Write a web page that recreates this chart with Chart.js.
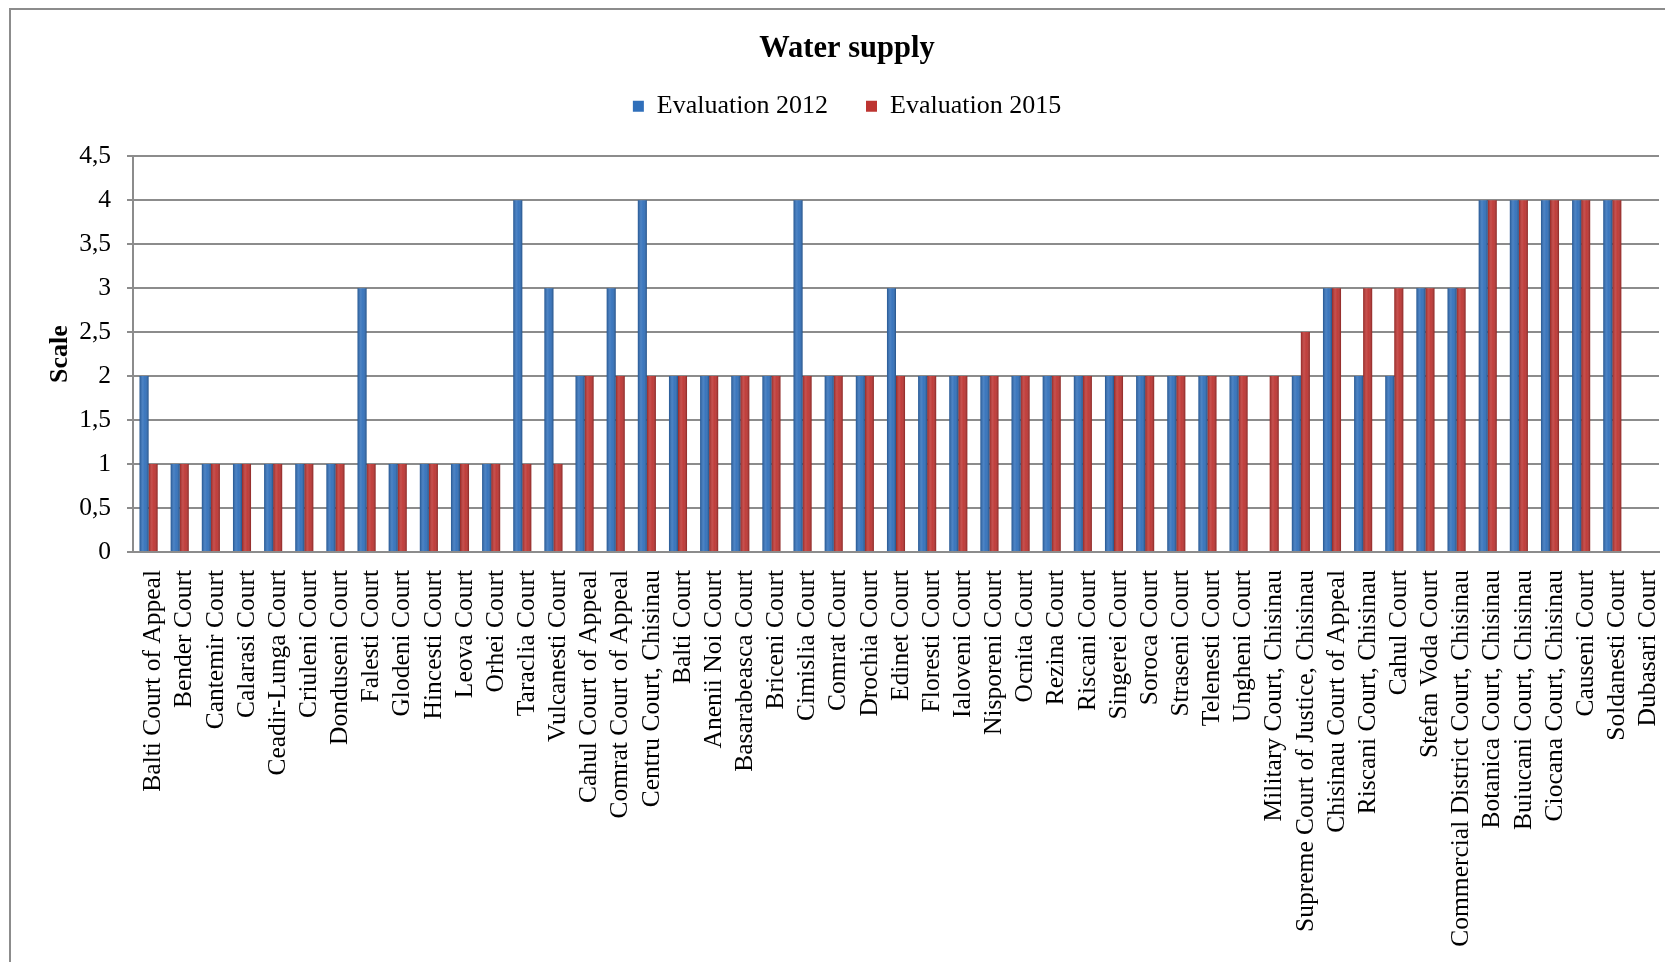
<!DOCTYPE html>
<html>
<head>
<meta charset="utf-8">
<title>Water supply</title>
<script src="https://cdn.jsdelivr.net/npm/chart.js@4.4.1/dist/chart.umd.min.js"></script>
<style>
    html, body { margin: 0; padding: 0; background: #fff; overflow: hidden; }
    #wrap { position: relative; width: 1665px; height: 962px; overflow: hidden; }
    #frame { position: absolute; left: 9px; top: 8px; width: 1700px; height: 1000px; border: 2px solid #8c8c8c; }
    #chart { position: absolute; left: 0; top: 0; }
</style>
</head>
<body>
<div id="wrap">
    <div id="frame"></div>
    <canvas id="chart" width="1665" height="962"></canvas>
</div>
<script>
const courts = [
    'Balti Court of Appeal', 'Bender Court', 'Cantemir Court', 'Calarasi Court', 'Ceadir-Lunga Court',
    'Criuleni Court', 'Donduseni Court', 'Falesti Court', 'Glodeni Court', 'Hincesti Court',
    'Leova Court', 'Orhei Court', 'Taraclia Court', 'Vulcanesti Court', 'Cahul Court of Appeal',
    'Comrat Court of Appeal', 'Centru Court, Chisinau', 'Balti Court', 'Anenii Noi Court', 'Basarabeasca Court',
    'Briceni Court', 'Cimislia Court', 'Comrat Court', 'Drochia Court', 'Edinet Court',
    'Floresti Court', 'Ialoveni Court', 'Nisporeni Court', 'Ocnita Court', 'Rezina Court',
    'Riscani Court', 'Singerei Court', 'Soroca Court', 'Straseni Court', 'Telenesti Court',
    'Ungheni Court', 'Military Court, Chisinau', 'Supreme Court of Justice, Chisinau', 'Chisinau Court of Appeal', 'Riscani Court, Chisinau',
    'Cahul Court', 'Stefan Voda Court', 'Commercial District Court, Chisinau', 'Botanica Court, Chisinau', 'Buiucani Court, Chisinau',
    'Ciocana Court, Chisinau', 'Causeni Court', 'Soldanesti Court', 'Dubasari Court'
];

const eval2012 = [
    2, 1, 1, 1, 1, 1, 1, 3, 1, 1,
    1, 1, 4, 3, 2, 3, 4, 2, 2, 2,
    2, 4, 2, 2, 3, 2, 2, 2, 2, 2,
    2, 2, 2, 2, 2, 2, 0, 2, 3, 2,
    2, 3, 3, 4, 4, 4, 4, 4, null
];

const eval2015 = [
    1, 1, 1, 1, 1, 1, 1, 1, 1, 1,
    1, 1, 1, 1, 2, 2, 2, 2, 2, 2,
    2, 2, 2, 2, 2, 2, 2, 2, 2, 2,
    2, 2, 2, 2, 2, 2, 2, 2.5, 3, 3,
    3, 3, 3, 4, 4, 4, 4, 4, null
];

const seriesNames = ['Evaluation 2012', 'Evaluation 2015'];
const yTicks = [0, 0.5, 1, 1.5, 2, 2.5, 3, 3.5, 4, 4.5];

Chart.defaults.font.family = "'Liberation Serif', 'Times New Roman', serif";
Chart.defaults.color = '#000';

// extra room between the legend and the plot
const legendGap = {
    id: 'legendGap',
    beforeLayout(chart) {
        const lg = chart.legend;
        if (lg && !lg._gapPatched) {
            const fit = lg.fit;
            lg.fit = function () {
                fit.call(this);
                this.height += 27;
            };
            lg._gapPatched = true;
        }
    }
};

// soft cylinder shading over each bar
const barShade = {
    id: 'barShade',
    afterDatasetsDraw(chart) {
        const ctx = chart.ctx;
        ctx.save();
        chart.data.datasets.forEach((ds, i) => {
            chart.getDatasetMeta(i).data.forEach(bar => {
                const p = bar.getProps(['x', 'y', 'base', 'width'], true);
                const h = p.base - p.y;
                if (!(h > 1)) return;
                const left = p.x - p.width / 2;
                const g = ctx.createLinearGradient(left, 0, left + p.width, 0);
                g.addColorStop(0, 'rgba(0,0,0,0.22)');
                g.addColorStop(0.35, 'rgba(255,255,255,0.14)');
                g.addColorStop(0.6, 'rgba(255,255,255,0.05)');
                g.addColorStop(1, 'rgba(0,0,0,0.28)');
                ctx.fillStyle = g;
                ctx.fillRect(left, p.y, p.width, h);
            });
        });
        ctx.restore();
    }
};

const ctx = document.getElementById('chart').getContext('2d');
const waterChart = new Chart(ctx, {
    type: 'bar',
    data: {
        labels: courts,
        datasets: [{
            label: seriesNames[0],
            data: eval2012,
            backgroundColor: '#306fba',
            categoryPercentage: 0.58,
            barPercentage: 1
        }, {
            label: seriesNames[1],
            data: eval2015,
            backgroundColor: '#bd3431',
            categoryPercentage: 0.58,
            barPercentage: 1
        }]
    },
    options: {
        responsive: false,
        animation: false,
        layout: { padding: { left: 35, right: 6, top: 0, bottom: 0 } },
        plugins: {
            title: {
                display: true,
                text: 'Water supply',
                font: { size: 30.5, weight: 'bold', lineHeight: 0.4 },
                padding: { top: 43, bottom: 0 }
            },
            legend: {
                position: 'top',
                labels: {
                    font: { size: 26 },
                    boxWidth: 11,
                    boxHeight: 11,
                    padding: 38
                }
            },
            tooltip: { enabled: false }
        },
        scales: {
            x: {
                grid: { display: false, drawTicks: false },
                border: { display: true, color: '#8c8c8c', width: 2 },
                ticks: {
                    autoSkip: false,
                    minRotation: 90,
                    maxRotation: 90,
                    padding: 18,
                    labelOffset: 5,
                    font: { size: 25.5 }
                },
                afterFit(scale) {
                    scale.height = 410;
                    scale.paddingLeft = 0;
                    scale.paddingRight = 0;
                }
            },
            y: {
                min: 0,
                max: 4.5,
                afterBuildTicks(scale) { scale.ticks = yTicks.map(v => ({ value: v })); },
                grid: { color: '#8c8c8c', lineWidth: 2, tickLength: 6 },
                border: { display: true, color: '#8c8c8c', width: 2 },
                ticks: {
                    padding: 16,
                    font: { size: 25.5 },
                    callback: v => String(v).replace('.', ',')
                },
                title: {
                    display: true,
                    text: 'Scale',
                    font: { size: 26, weight: 'bold' },
                    padding: { top: 10, bottom: 0 }
                },
                afterFit(scale) { scale.width = 98; }
            }
        }
    },
    plugins: [legendGap, barShade]
});
</script>
</body>
</html>
